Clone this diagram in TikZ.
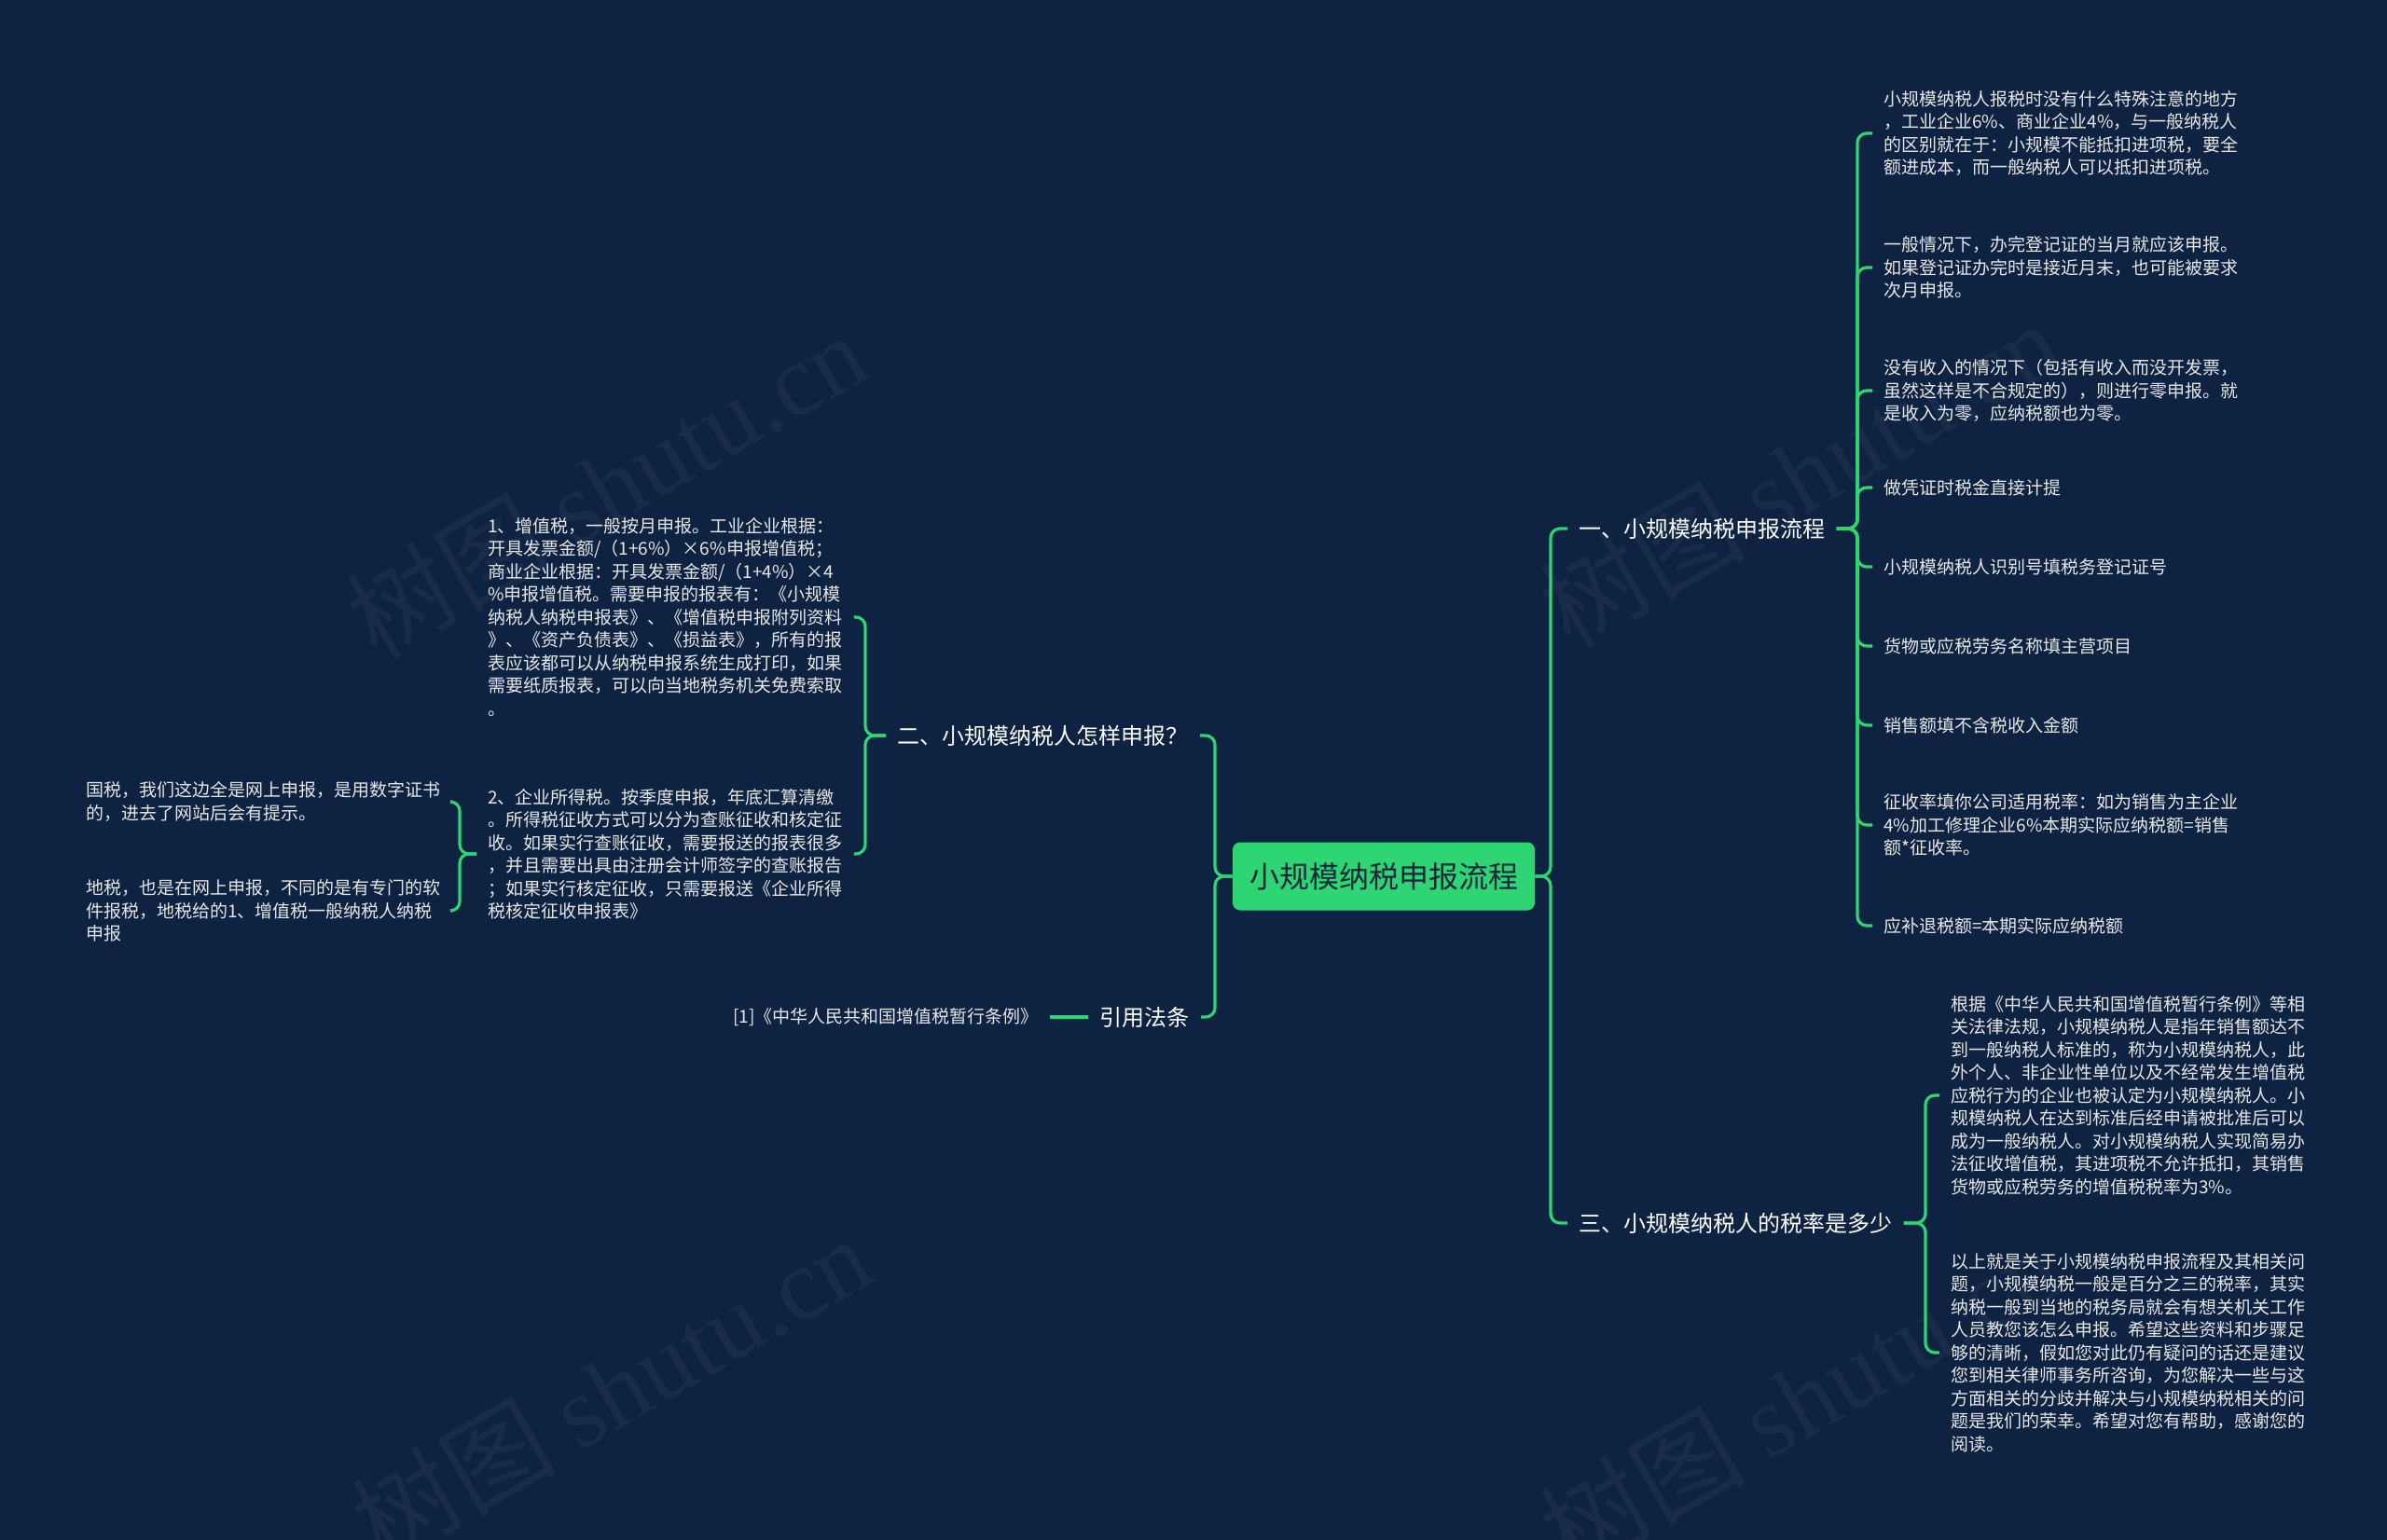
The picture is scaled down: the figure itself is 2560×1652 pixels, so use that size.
\documentclass[tikz,border=0pt]{standalone}
\usepackage{fontspec}
\setmainfont{Noto Sans CJK SC}
\newfontfamily\wmserif{Liberation Serif}
\definecolor{bg}{HTML}{0E2341}
\definecolor{mmgreen}{HTML}{2ED573}
\definecolor{leaftext}{HTML}{E8E8E8}
\definecolor{roottext}{HTML}{17263A}
\begin{document}
\begin{tikzpicture}[x=0.5pt,y=-0.5pt,
  conn/.style={draw=mmgreen, line width=1.6pt, rounded corners=5pt},
  rootbox/.style={fill=mmgreen, rounded corners=4pt, minimum width=162pt, minimum height=36.5pt, text=roottext, font=\fontsize{16pt}{19pt}\selectfont, inner sep=0pt},
  topic/.style={text=white, font=\fontsize{12pt}{14pt}\selectfont, inner xsep=6pt, inner ysep=2pt},
  leaf/.style={text=leaftext, font=\fontsize{9.5pt}{12.25pt}\selectfont, align=left, inner xsep=6pt, inner ysep=2pt},
  wm/.style={text=white, opacity=0.045, rotate=30, font=\fontsize{55pt}{60pt}\selectfont}
]
\fill[bg] (0,0) rectangle (2560,1652);
\useasboundingbox (0,0) rectangle (2560,1652);

% watermarks
\node[wm] (wm1) at (650,520) {树图 {\wmserif shutu.cn}};
\node[wm] (wm2) at (1930,508) {树图 {\wmserif shutu.cn}};
\node[wm] (wm3) at (655,1490) {树图 {\wmserif shutu.cn}};
\node[wm] (wm4) at (1930,1500) {树图 {\wmserif shutu.cn}};

% bracket x positions
\coordinate (trR) at (1663,0);
\coordinate (trL) at (1303,0);
\coordinate (bx1) at (1992,0);
\coordinate (bx2) at (928,0);
\coordinate (bx3) at (2065,0);
\coordinate (bx4) at (493,0);

% root
\node[rootbox] (root) at (1484,940) {小规模纳税申报流程};

% topics
\node[topic, anchor=west] (t1) at (1681,567) {一、小规模纳税申报流程};
\node[topic, anchor=west] (t3) at (1681,1312) {三、小规模纳税人的税率是多少};
\node[topic, anchor=east] (t2) at (1287,789) {二、小规模纳税人怎样申报？};
\node[topic, anchor=east] (t4) at (1288,1091) {引用法条};

% right group 1
\node[leaf, anchor=west] (a1) at (2008,143) {小规模纳税人报税时没有什么特殊注意的地方\\，工业企业6\%、商业企业4\%，与一般纳税人\\的区别就在于：小规模不能抵扣进项税，要全\\额进成本，而一般纳税人可以抵扣进项税。};
\node[leaf, anchor=west] (a2) at (2008,287) {一般情况下，办完登记证的当月就应该申报。\\如果登记证办完时是接近月末，也可能被要求\\次月申报。};
\node[leaf, anchor=west] (a3) at (2008,419) {没有收入的情况下（包括有收入而没开发票，\\虽然这样是不合规定的），则进行零申报。就\\是收入为零，应纳税额也为零。};
\node[leaf, anchor=west] (a4) at (2008,523) {做凭证时税金直接计提};
\node[leaf, anchor=west] (a5) at (2008,608) {小规模纳税人识别号填税务登记证号};
\node[leaf, anchor=west] (a6) at (2008,693) {货物或应税劳务名称填主营项目};
\node[leaf, anchor=west] (a7) at (2008,778) {销售额填不含税收入金额};
\node[leaf, anchor=west] (a8) at (2008,885) {征收率填你公司适用税率：如为销售为主企业\\4\%加工修理企业6\%本期实际应纳税额=销售\\额*征收率。};
\node[leaf, anchor=west] (a9) at (2008,993) {应补退税额=本期实际应纳税额};

% right group 3
\node[leaf, anchor=west] (c1) at (2080,1175) {根据《中华人民共和国增值税暂行条例》等相\\关法律法规，小规模纳税人是指年销售额达不\\到一般纳税人标准的，称为小规模纳税人，此\\外个人、非企业性单位以及不经常发生增值税\\应税行为的企业也被认定为小规模纳税人。小\\规模纳税人在达到标准后经申请被批准后可以\\成为一般纳税人。对小规模纳税人实现简易办\\法征收增值税，其进项税不允许抵扣，其销售\\货物或应税劳务的增值税税率为3\%。};
\node[leaf, anchor=west] (c2) at (2080,1451) {以上就是关于小规模纳税申报流程及其相关问\\题，小规模纳税一般是百分之三的税率，其实\\纳税一般到当地的税务局就会有想关机关工作\\人员教您该怎么申报。希望这些资料和步骤足\\够的清晰，假如您对此仍有疑问的话还是建议\\您到相关律师事务所咨询，为您解决一些与这\\方面相关的分歧并解决与小规模纳税相关的问\\题是我们的荣幸。希望对您有帮助，感谢您的\\阅读。};

% left group 2
\node[leaf, anchor=west] (p1) at (511,662) {1、增值税，一般按月申报。工业企业根据：\\开具发票金额/（1+6\%）×6\%申报增值税；\\商业企业根据：开具发票金额/（1+4\%）×4\\\%申报增值税。需要申报的报表有：《小规模\\纳税人纳税申报表》、《增值税申报附列资料\\》、《资产负债表》、《损益表》，所有的报\\表应该都可以从纳税申报系统生成打印，如果\\需要纸质报表，可以向当地税务机关免费索取\\。};
\node[leaf, anchor=west] (p2) at (511,916) {2、企业所得税。按季度申报，年底汇算清缴\\。所得税征收方式可以分为查账征收和核定征\\收。如果实行查账征收，需要报送的报表很多\\，并且需要出具由注册会计师签字的查账报告\\；如果实行核定征收，只需要报送《企业所得\\税核定征收申报表》};

\node[leaf, anchor=west] (g1) at (80,860) {国税，我们这边全是网上申报，是用数字证书\\的，进去了网站后会有提示。};
\node[leaf, anchor=west] (g2) at (80,977) {地税，也是在网上申报，不同的是有专门的软\\件报税，地税给的1、增值税一般纳税人纳税\\申报};

\node[leaf, anchor=east] (r1) at (1126,1091) {[1]《中华人民共和国增值税暂行条例》};

% connectors: root to topics
\foreach \t in {t1,t3} \draw[conn] (root.east) -- (root.east -| trR) |- (\t.west);
\foreach \t in {t2,t4} \draw[conn] (root.west) -- (root.west -| trL) |- (\t.east);

% group 1
\foreach \c in {a1,a2,a3,a4,a5,a6,a7,a8,a9} \draw[conn] (t1.east) -- (t1.east -| bx1) |- (\c.west);
% group 3
\foreach \c in {c1,c2} \draw[conn] (t3.east) -- (t3.east -| bx3) |- (\c.west);
% group 2
\foreach \c in {p1,p2} \draw[conn] (t2.west) -- (t2.west -| bx2) |- (\c.east);
\foreach \c in {g1,g2} \draw[conn] (p2.west) -- (p2.west -| bx4) |- (\c.east);
% reference
\draw[conn] (t4.west) -- (r1.east);
\end{tikzpicture}
\end{document}
